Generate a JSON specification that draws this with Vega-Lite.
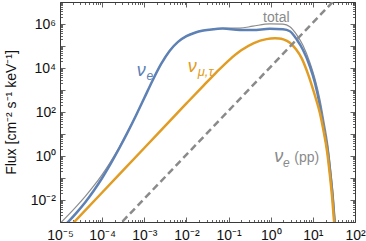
{
  "$schema": "https://vega.github.io/schema/vega-lite/v6.json",
  "width": 295,
  "height": 220,
  "autosize": {"type": "none"},
  "padding": {"left": 60, "top": 2, "right": 11, "bottom": 19},
  "config": {
    "view": {"stroke": "#3a3a3a", "strokeWidth": 1},
    "axis": {"grid": false, "domain": false, "tickColor": "#3a3a3a", "tickWidth": 0.8, "labelFont": "Liberation Sans", "labelFontSize": 14, "labelColor": "#111", "titleFont": "Liberation Sans", "titleFontWeight": "normal", "titleColor": "#111", "labelOverlap": false, "labelFlush": false},
    "text": {"font": "Liberation Sans"}
  },
  "datasets": {
    "total": [
      {"E": 1e-5, "F": 8.59e-4}, {"E": 1.585e-5, "F": 2.095e-3}, {"E": 2.512e-5, "F": 5.41e-3},
      {"E": 3.981e-5, "F": 0.0147}, {"E": 6.31e-5, "F": 0.0435}, {"E": 1e-4, "F": 0.1437},
      {"E": 1.585e-4, "F": 0.5475}, {"E": 2.512e-4, "F": 2.42}, {"E": 3.981e-4, "F": 12.2},
      {"E": 6.31e-4, "F": 69.4}, {"E": 1e-3, "F": 436}, {"E": 1.585e-3, "F": 2798},
      {"E": 2.512e-3, "F": 15340}, {"E": 3.981e-3, "F": 59720}, {"E": 6.31e-3, "F": 153300},
      {"E": 0.01, "F": 279100}, {"E": 0.01585, "F": 403900}, {"E": 0.02512, "F": 504400},
      {"E": 0.03981, "F": 576900}, {"E": 0.0729, "F": 641300}, {"E": 0.185, "F": 649500},
      {"E": 0.377, "F": 794600}, {"E": 0.955, "F": 1020400}, {"E": 1.95, "F": 979000},
      {"E": 2.85, "F": 750300}, {"E": 4.19, "F": 313800}, {"E": 5.81, "F": 107500},
      {"E": 8.53, "F": 17400}, {"E": 11.2, "F": 3264}, {"E": 14.7, "F": 373},
      {"E": 18.3, "F": 38}, {"E": 22.8, "F": 2.96}, {"E": 26.3, "F": 0.26},
      {"E": 29.9, "F": 0.021}, {"E": 32.7, "F": 2.2e-3}, {"E": 35.1, "F": 4.0e-4}
    ],
    "nue": [
      {"E": 1e-5, "F": 4.47e-4}, {"E": 1.585e-5, "F": 1.047e-3}, {"E": 2.512e-5, "F": 2.754e-3},
      {"E": 3.981e-5, "F": 7.943e-3}, {"E": 6.31e-5, "F": 0.0263}, {"E": 1e-4, "F": 0.1},
      {"E": 1.585e-4, "F": 0.4365}, {"E": 2.512e-4, "F": 2.138}, {"E": 3.981e-4, "F": 11.48},
      {"E": 6.31e-4, "F": 67.6}, {"E": 1e-3, "F": 431.5}, {"E": 1.585e-3, "F": 2786},
      {"E": 2.512e-3, "F": 15310}, {"E": 3.981e-3, "F": 59570}, {"E": 6.31e-3, "F": 153100},
      {"E": 0.01, "F": 278600}, {"E": 0.01585, "F": 402700}, {"E": 0.02512, "F": 501200},
      {"E": 0.03981, "F": 568900}, {"E": 0.0729, "F": 617000}, {"E": 0.185, "F": 537000},
      {"E": 0.377, "F": 537000}, {"E": 0.955, "F": 603000}, {"E": 1.95, "F": 575000},
      {"E": 2.85, "F": 468000}, {"E": 4.19, "F": 191000}, {"E": 5.81, "F": 67600},
      {"E": 8.53, "F": 11700}, {"E": 11.2, "F": 2140}, {"E": 14.7, "F": 195},
      {"E": 18.3, "F": 16.2}, {"E": 22.8, "F": 1.41}, {"E": 26.3, "F": 0.124},
      {"E": 29.9, "F": 0.011}, {"E": 32.7, "F": 1.15e-3}, {"E": 34.3, "F": 3.98e-4}
    ],
    "numt": [
      {"E": 1.38e-5, "F": 3.98e-4}, {"E": 1e-4, "F": 0.0219}, {"E": 1e-3, "F": 2.31},
      {"E": 0.01, "F": 245}, {"E": 0.02512, "F": 1549}, {"E": 0.0501, "F": 6060},
      {"E": 0.1, "F": 21750}, {"E": 0.1995, "F": 63460}, {"E": 0.3981, "F": 135700},
      {"E": 0.7943, "F": 205300}, {"E": 1.259, "F": 222600}, {"E": 1.585, "F": 218800},
      {"E": 1.995, "F": 199500}, {"E": 2.851, "F": 141300}, {"E": 3.981, "F": 70790},
      {"E": 5.408, "F": 28180}, {"E": 7.762, "F": 5012}, {"E": 11.19, "F": 562},
      {"E": 14.72, "F": 89.1}, {"E": 17.66, "F": 16.2}, {"E": 21.98, "F": 1.41},
      {"E": 25.47, "F": 0.124}, {"E": 28.91, "F": 0.011}, {"E": 31.7, "F": 1.15e-3},
      {"E": 33.1, "F": 3.98e-4}
    ],
    "pp": [
      {"E": 2.0e-4, "F": 4.57e-4}, {"E": 39.8, "F": 1.82e7}
    ]
  },
  "layer": [
    {
      "data": {"name": "total"},
      "mark": {"type": "line", "clip": true, "color": "#8c8c8c", "strokeWidth": 1.2, "interpolate": "monotone"},
      "encoding": {
        "x": {"field": "E", "type": "quantitative", "scale": {"type": "log", "domain": [1e-5, 100], "nice": false},
          "axis": {"orient": "bottom", "values": [1e-5, 1e-4, 1e-3, 0.01, 0.1, 1, 10, 100], "tickSize": -5, "labelPadding": 11, "title": null,
            "labelExpr": "['10⁻⁵','10⁻⁴','10⁻³','10⁻²','10⁻¹','10⁰','10¹','10²'][round(log(datum.value)/LN10)+5]"}},
        "y": {"field": "F", "type": "quantitative", "scale": {"type": "log", "domain": [0.001, 1e7], "nice": false},
          "axis": {"orient": "left", "values": [0.001, 0.01, 0.1, 1, 10, 100, 1000, 10000, 100000, 1000000, 10000000], "tickSize": -5, "labelPadding": 9.5,
            "title": "Flux  [cm⁻² s⁻¹ keV⁻¹]", "titleFontSize": 14, "titlePadding": 12,
            "labelExpr": "['','10⁻²','','10⁰','','10²','','10⁴','','10⁶',''][round(log(datum.value)/LN10)+3]"}}
      }
    },
    {
      "data": {"name": "nue"},
      "mark": {"type": "line", "clip": true, "color": "#5E81B5", "strokeWidth": 2.5, "interpolate": "monotone"},
      "encoding": {
        "x": {"field": "E", "type": "quantitative", "scale": {"type": "log", "domain": [1e-5, 100], "nice": false},
          "axis": {"orient": "bottom", "tickSize": -2.5, "labels": false, "title": null,
            "values": [2e-5,3e-5,4e-5,5e-5,6e-5,7e-5,8e-5,9e-5,2e-4,3e-4,4e-4,5e-4,6e-4,7e-4,8e-4,9e-4,0.002,0.003,0.004,0.005,0.006,0.007,0.008,0.009,0.02,0.03,0.04,0.05,0.06,0.07,0.08,0.09,0.2,0.3,0.4,0.5,0.6,0.7,0.8,0.9,2,3,4,5,6,7,8,9,20,30,40,50,60,70,80,90]}},
        "y": {"field": "F", "type": "quantitative", "scale": {"type": "log", "domain": [0.001, 1e7], "nice": false},
          "axis": {"orient": "left", "tickSize": -2.5, "labels": false, "title": null,
            "values": [0.002,0.003,0.004,0.005,0.006,0.007,0.008,0.009,0.02,0.03,0.04,0.05,0.06,0.07,0.08,0.09,0.2,0.3,0.4,0.5,0.6,0.7,0.8,0.9,2,3,4,5,6,7,8,9,20,30,40,50,60,70,80,90,200,300,400,500,600,700,800,900,2000,3000,4000,5000,6000,7000,8000,9000,20000,30000,40000,50000,60000,70000,80000,90000,200000,300000,400000,500000,600000,700000,800000,900000,2000000,3000000,4000000,5000000,6000000,7000000,8000000,9000000]}}
      }
    },
    {
      "data": {"name": "numt"},
      "mark": {"type": "line", "clip": true, "color": "#E19C24", "strokeWidth": 2.5, "interpolate": "monotone"},
      "encoding": {
        "x": {"field": "E", "type": "quantitative", "scale": {"type": "log", "domain": [1e-5, 100], "nice": false},
          "axis": {"orient": "top", "values": [1e-5, 1e-4, 1e-3, 0.01, 0.1, 1, 10, 100], "tickSize": -5, "labels": false, "title": null}},
        "y": {"field": "F", "type": "quantitative", "scale": {"type": "log", "domain": [0.001, 1e7], "nice": false},
          "axis": {"orient": "right", "values": [0.001, 0.01, 0.1, 1, 10, 100, 1000, 10000, 100000, 1000000, 10000000], "tickSize": -5, "labels": false, "title": null}}
      }
    },
    {
      "data": {"name": "pp"},
      "mark": {"type": "line", "clip": true, "color": "#8a8a8a", "strokeWidth": 2.5, "strokeDash": [7, 4]},
      "encoding": {
        "x": {"field": "E", "type": "quantitative", "scale": {"type": "log", "domain": [1e-5, 100], "nice": false},
          "axis": {"orient": "top", "tickSize": -2.5, "labels": false, "title": null,
            "values": [2e-5,3e-5,4e-5,5e-5,6e-5,7e-5,8e-5,9e-5,2e-4,3e-4,4e-4,5e-4,6e-4,7e-4,8e-4,9e-4,0.002,0.003,0.004,0.005,0.006,0.007,0.008,0.009,0.02,0.03,0.04,0.05,0.06,0.07,0.08,0.09,0.2,0.3,0.4,0.5,0.6,0.7,0.8,0.9,2,3,4,5,6,7,8,9,20,30,40,50,60,70,80,90]}},
        "y": {"field": "F", "type": "quantitative", "scale": {"type": "log", "domain": [0.001, 1e7], "nice": false},
          "axis": {"orient": "right", "tickSize": -2.5, "labels": false, "title": null,
            "values": [0.002,0.003,0.004,0.005,0.006,0.007,0.008,0.009,0.02,0.03,0.04,0.05,0.06,0.07,0.08,0.09,0.2,0.3,0.4,0.5,0.6,0.7,0.8,0.9,2,3,4,5,6,7,8,9,20,30,40,50,60,70,80,90,200,300,400,500,600,700,800,900,2000,3000,4000,5000,6000,7000,8000,9000,20000,30000,40000,50000,60000,70000,80000,90000,200000,300000,400000,500000,600000,700000,800000,900000,2000000,3000000,4000000,5000000,6000000,7000000,8000000,9000000]}}
      }
    },
    {
      "data": {"values": [{}]},
      "mark": {"type": "text", "text": "ν", "fontSize": 18, "fontStyle": "italic", "color": "#5E81B5", "align": "left", "baseline": "alphabetic"},
      "encoding": {
        "x": {"datum": 6.6e-4, "type": "quantitative", "scale": {"type": "log", "domain": [1e-5, 100], "nice": false}, "axis": null},
        "y": {"datum": 4490, "type": "quantitative", "scale": {"type": "log", "domain": [0.001, 1e7], "nice": false}, "axis": null}
      }
    },
    {
      "data": {"values": [{}]},
      "mark": {"type": "text", "text": "e", "fontSize": 12, "fontStyle": "italic", "color": "#5E81B5", "align": "left", "baseline": "alphabetic"},
      "encoding": {
        "x": {"datum": 1.13e-3, "type": "quantitative", "scale": {"type": "log", "domain": [1e-5, 100], "nice": false}, "axis": null},
        "y": {"datum": 2950, "type": "quantitative", "scale": {"type": "log", "domain": [0.001, 1e7], "nice": false}, "axis": null}
      }
    },
    {
      "data": {"values": [{}]},
      "mark": {"type": "text", "text": "ν", "fontSize": 18, "fontStyle": "italic", "color": "#E19C24", "align": "left", "baseline": "alphabetic"},
      "encoding": {
        "x": {"datum": 0.0107, "type": "quantitative", "scale": {"type": "log", "domain": [1e-5, 100], "nice": false}, "axis": null},
        "y": {"datum": 6400, "type": "quantitative", "scale": {"type": "log", "domain": [0.001, 1e7], "nice": false}, "axis": null}
      }
    },
    {
      "data": {"values": [{}]},
      "mark": {"type": "text", "text": "μ,τ", "fontSize": 13, "fontStyle": "italic", "color": "#E19C24", "align": "left", "baseline": "alphabetic"},
      "encoding": {
        "x": {"datum": 0.0185, "type": "quantitative", "scale": {"type": "log", "domain": [1e-5, 100], "nice": false}, "axis": null},
        "y": {"datum": 4300, "type": "quantitative", "scale": {"type": "log", "domain": [0.001, 1e7], "nice": false}, "axis": null}
      }
    },
    {
      "data": {"values": [{}]},
      "mark": {"type": "text", "text": "total", "fontSize": 14, "color": "#8a8a8a", "align": "center", "baseline": "alphabetic"},
      "encoding": {
        "x": {"datum": 1.36, "type": "quantitative", "scale": {"type": "log", "domain": [1e-5, 100], "nice": false}, "axis": null},
        "y": {"datum": 1240000, "type": "quantitative", "scale": {"type": "log", "domain": [0.001, 1e7], "nice": false}, "axis": null}
      }
    },
    {
      "data": {"values": [{}]},
      "mark": {"type": "text", "text": "ν", "fontSize": 18, "fontStyle": "italic", "color": "#8a8a8a", "align": "left", "baseline": "alphabetic"},
      "encoding": {
        "x": {"datum": 1.22, "type": "quantitative", "scale": {"type": "log", "domain": [1e-5, 100], "nice": false}, "axis": null},
        "y": {"datum": 0.519, "type": "quantitative", "scale": {"type": "log", "domain": [0.001, 1e7], "nice": false}, "axis": null}
      }
    },
    {
      "data": {"values": [{}]},
      "mark": {"type": "text", "text": "e", "fontSize": 12, "fontStyle": "italic", "color": "#8a8a8a", "align": "left", "baseline": "alphabetic"},
      "encoding": {
        "x": {"datum": 1.95, "type": "quantitative", "scale": {"type": "log", "domain": [1e-5, 100], "nice": false}, "axis": null},
        "y": {"datum": 0.308, "type": "quantitative", "scale": {"type": "log", "domain": [0.001, 1e7], "nice": false}, "axis": null}
      }
    },
    {
      "data": {"values": [{}]},
      "mark": {"type": "text", "text": "(pp)", "fontSize": 14, "color": "#8a8a8a", "align": "left", "baseline": "alphabetic"},
      "encoding": {
        "x": {"datum": 3.63, "type": "quantitative", "scale": {"type": "log", "domain": [1e-5, 100], "nice": false}, "axis": null},
        "y": {"datum": 0.519, "type": "quantitative", "scale": {"type": "log", "domain": [0.001, 1e7], "nice": false}, "axis": null}
      }
    }
  ],
  "resolve": {"axis": {"x": "independent", "y": "independent"}}
}
